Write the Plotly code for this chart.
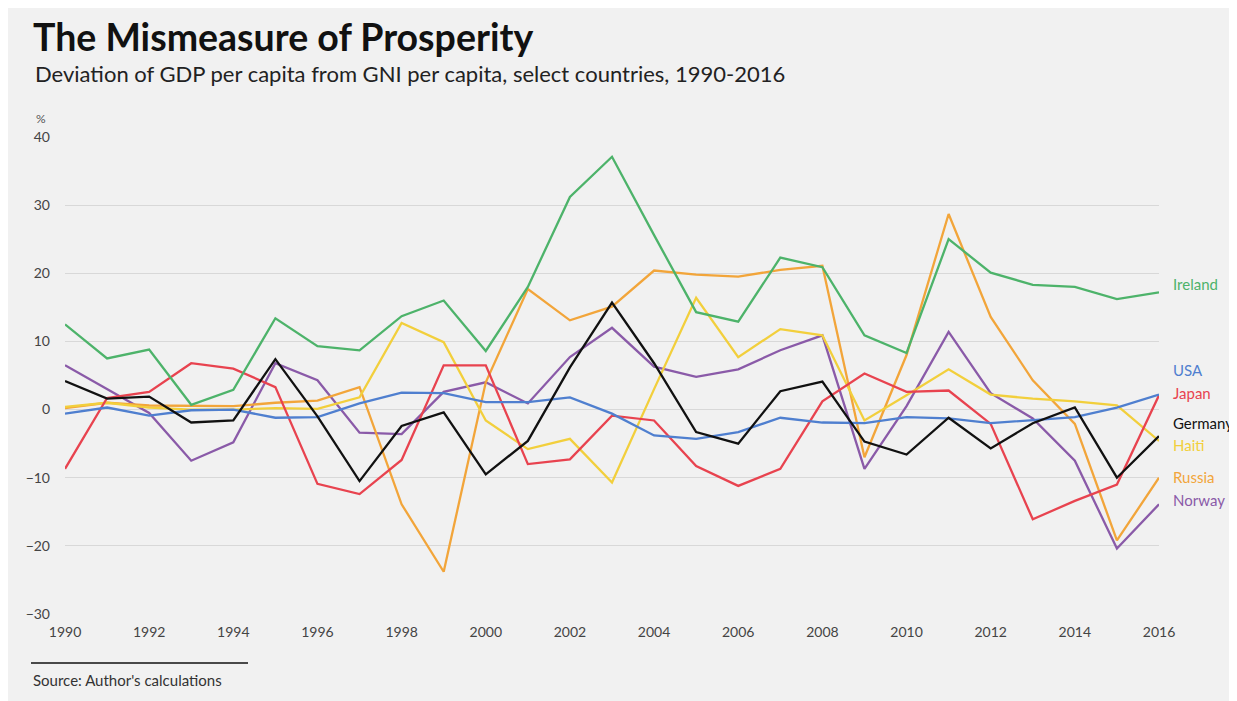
import plotly.graph_objects as go

years = list(range(1990, 2017))

ireland = [12.5, 7.5, 8.8, 0.7, 2.9, 13.4, 9.3, 8.7, 13.7, 16.0, 8.6, 18.0, 31.2, 37.1, 25.6, 14.3, 12.9, 22.3, 20.9, 10.9, 8.3, 25.0, 20.1, 18.3, 18.0, 16.2, 17.2]
usa = [-0.6, 0.3, -0.9, -0.1, 0.0, -1.2, -1.1, 0.9, 2.5, 2.4, 1.1, 1.1, 1.8, -0.6, -3.8, -4.3, -3.3, -1.2, -1.9, -2.0, -1.1, -1.3, -2.0, -1.6, -1.1, 0.3, 2.2]
japan = [-8.7, 1.7, 2.6, 6.8, 6.0, 3.3, -10.9, -12.4, -7.4, 6.5, 6.5, -8.0, -7.3, -0.9, -1.6, -8.3, -11.2, -8.7, 1.2, 5.3, 2.6, 2.8, -2.1, -16.1, -13.4, -11.0, 2.1]
germany = [4.2, 1.6, 1.9, -1.9, -1.6, 7.4, -1.0, -10.5, -2.4, -0.4, -9.5, -4.6, 6.2, 15.7, 6.8, -3.3, -5.0, 2.7, 4.1, -4.7, -6.6, -1.2, -5.7, -2.0, 0.3, -10.0, -3.9]
haiti = [0.4, 1.0, 0.3, 0.0, 0.0, 0.2, 0.1, 1.8, 12.7, 9.9, -1.6, -5.8, -4.3, -10.7, 3.0, 16.4, 7.7, 11.8, 10.9, -1.6, 2.1, 5.9, 2.2, 1.6, 1.2, 0.6, -4.6]
russia = [0.2, 1.0, 0.6, 0.5, 0.5, 1.0, 1.3, 3.3, -13.9, -23.8, 4.0, 17.7, 13.1, 15.1, 20.4, 19.8, 19.5, 20.5, 21.1, -7.0, 8.0, 28.7, 13.6, 4.3, -2.1, -19.2, -10.0]
norway = [6.5, 3.0, -0.5, -7.5, -4.8, 6.8, 4.3, -3.4, -3.6, 2.6, 4.0, 0.9, 7.7, 12.0, 6.3, 4.8, 5.9, 8.7, 10.9, -8.7, 0.5, 11.4, 2.4, -1.3, -7.5, -20.4, -13.9]

names = ["Ireland", "USA", "Japan", "Germany", "Haiti", "Russia", "Norway"]
series = [ireland, usa, japan, germany, haiti, russia, norway]
colors = ["#4db36a", "#4f7fcf", "#e8434f", "#111111", "#f2cf3c", "#f2a53a", "#8a5aa8"]
label_y = [18.5, 5.8, 2.5, -2.0, -5.2, -9.9, -13.3]
draw_order = [6, 5, 4, 2, 1, 0, 3]

y_ticks = [-30, -20, -10, 0, 10, 20, 30, 40]
x_ticks = list(range(1990, 2017, 2))

FONT = "Lato, Open Sans, sans-serif"
W, H = 1237, 701
ML, MR, MT, MB = 57, 86, 129, 95
PH = H - MT - MB  # plot height in px
PW = W - ML - MR


def px_x(page_x):
    return (page_x - 8 - ML) / PW


def px_y(page_y):
    return (H - MB - (page_y - 8)) / PH


fig = go.Figure()
for i in draw_order:
    fig.add_trace(go.Scatter(x=years, y=series[i], mode="lines", name=names[i],
                             line=dict(color=colors[i], width=2.3), showlegend=False))

annotations = []
for n, c, ly in zip(names, colors, label_y):
    annotations.append(dict(x=1, xref="paper", y=ly, yref="y", text=n, showarrow=False,
                            xanchor="left", xshift=12,
                            font=dict(family=FONT, size=15, color=c)))

annotations += [
    dict(x=px_x(33), xref="paper", y=px_y(73), yref="paper",
         text="Deviation of GDP per capita from GNI per capita, select countries, 1990-2016",
         showarrow=False, xanchor="left", yanchor="middle",
         font=dict(family=FONT, size=22, color="#222222")),
    dict(x=px_x(48), xref="paper", y=px_y(118), yref="paper", text="%", showarrow=False,
         xanchor="right", yanchor="middle", font=dict(family=FONT, size=12, color="#555555")),
    dict(x=px_x(31), xref="paper", y=px_y(680), yref="paper", text="Source: Author's calculations",
         showarrow=False, xanchor="left", yanchor="middle",
         font=dict(family=FONT, size=15, color="#333333")),
]

fig.update_layout(
    width=W, height=H,
    paper_bgcolor="#f1f1f1", plot_bgcolor="#f1f1f1",
    margin=dict(l=ML, r=MR, t=MT, b=MB),
    title=dict(text="<b>The Mismeasure of Prosperity</b>", x=25 / W, xanchor="left",
               y=1 - 30 / H, yanchor="middle",
               font=dict(family=FONT, size=37.5, color="#111111")),
    annotations=annotations,
    shapes=[dict(type="line", xref="paper", yref="paper", x0=px_x(31), x1=px_x(248),
                 y0=px_y(663), y1=px_y(663), line=dict(color="#111111", width=1.5))],
    xaxis=dict(range=[1990, 2016], tickvals=x_ticks, ticktext=[str(t) for t in x_ticks],
               showgrid=False, zeroline=False, showline=False, ticks="", ticklabelstandoff=8,
               tickfont=dict(family=FONT, size=14, color="#444444")),
    yaxis=dict(range=[-30, 40], tickvals=y_ticks, showgrid=True, gridcolor="#d8d8d8", gridwidth=1,
               zeroline=False, showline=False, ticks="", ticklabelstandoff=14,
               tickfont=dict(family=FONT, size=14, color="#444444")),
)

fig.write_html("out.html")
